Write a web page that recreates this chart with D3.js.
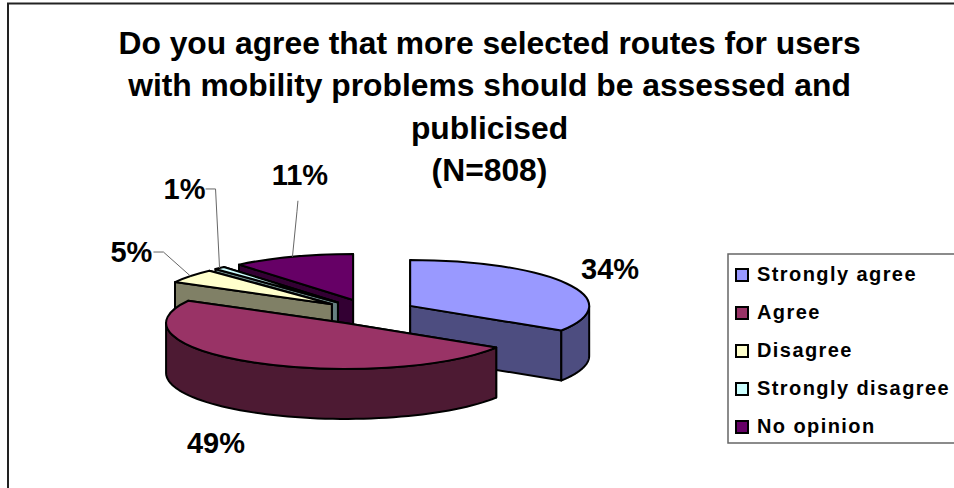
<!DOCTYPE html>
<html><head><meta charset="utf-8">
<script src="https://cdn.jsdelivr.net/npm/d3@7"></script>
<style>html,body{margin:0;padding:0;background:#fff}svg{display:block}
text{font-family:"Liberation Sans",Arial,sans-serif;font-weight:bold;fill:#000}</style>
</head><body><svg id="c" width="954" height="488"></svg>
<script>
const categories = ["Strongly agree","Agree","Disagree","Strongly disagree","No opinion"];
const values = [34,49,5,1,11];
const valueLabels = ["34%","49%","5%","1%","11%"];
const topColors = ["#9999FF","#993366","#FFFFCC","#CCFFFF","#660066"];
const wallColors = ["#4D4D80","#4D1A33","#808066","#668080","#330033"];
const titleLines = ["Do you agree that more selected routes for users","with mobility problems should be assessed and","publicised","(N=808)"];

const svg=d3.select("#c");
const rx=179, ry=46, depth=50, explodeX=47, explodeY=12.7;
const base={x:369,y:312};
const paintOrder=[4,3,2,0,1];

// frame
svg.append("path").attr("d","M8,488V3.5H954").attr("fill","none").attr("stroke","#222").attr("stroke-width",2);

// title
titleLines.forEach((t,i)=>svg.append("text").attr("x",489.5).attr("y",54+i*42.4)
  .attr("text-anchor","middle").attr("font-size",31.8).text(t));

const arcs=d3.pie().sort(null)(values);
const proj=(c,a,dy=0)=>[c.x+rx*Math.sin(a),c.y-ry*Math.cos(a)+dy];
const lineGen=d3.line();
const wallStyle=sel=>sel.attr("stroke","#000").attr("stroke-width",2).attr("stroke-linejoin","round");
const centers=arcs.map(d=>{const m=(d.startAngle+d.endAngle)/2;
  return {x:base.x+explodeX*Math.sin(m),y:base.y-explodeY*Math.cos(m),mid:m};});

const arcGen=d3.arc().innerRadius(0).outerRadius(rx);
paintOrder.forEach(i=>{
  const d=arcs[i],c=centers[i],g=svg.append("g");
  // radial walls, the far one first
  const radial=[d.startAngle,d.endAngle].sort((a,b)=>proj(c,a)[1]-proj(c,b)[1]);
  radial.forEach(a=>{
    g.append("path").attr("d",lineGen([[c.x,c.y],proj(c,a),proj(c,a,depth),[c.x,c.y+depth]])+"Z")
     .attr("fill",wallColors[i]).call(wallStyle);
  });
  // outer wall, front half only
  const a0=Math.max(d.startAngle,Math.PI/2),a1=Math.min(d.endAngle,Math.PI*1.5);
  if(a1>a0){
    const s=d3.range(0,61).map(k=>a0+(a1-a0)*k/60);
    const pts=s.map(a=>proj(c,a)).concat(s.slice().reverse().map(a=>proj(c,a,depth)));
    g.append("path").attr("d",lineGen(pts)+"Z").attr("fill",wallColors[i]).call(wallStyle);
  }
  // top face
  g.append("path").attr("d",arcGen(d))
   .attr("transform",`translate(${c.x},${c.y}) scale(1,${ry/rx})`)
   .attr("fill",topColors[i]).attr("stroke","#000").attr("stroke-width",2)
   .attr("vector-effect","non-scaling-stroke").attr("stroke-linejoin","round");
});

// value labels: offset of each label centre from its slice's rim point at mid-angle
const labelOffset=[[43,-15],[-38,80],[-59,-24],[-35,-79],[7.5,-82]];
const fontL=29;
arcs.forEach((d,i)=>{
  const c=centers[i],r=proj(c,c.mid);
  const lx=r[0]+labelOffset[i][0],ly=r[1]+labelOffset[i][1];
  let p=null;
  if(i===2) p=[[lx+22,ly],[lx+32,ly],r];
  if(i===3) p=[[lx+21,ly],[lx+31,ly],r];
  if(i===4) p=[[lx-2,ly+26],[lx-3,ly+37],r];
  if(p) svg.append("path").attr("d",lineGen(p)).attr("fill","none").attr("stroke","#666").attr("stroke-width",1);
  svg.append("text").attr("x",lx).attr("y",ly+10).attr("text-anchor","middle")
    .attr("font-size",fontL).text(valueLabels[i]);
});

// legend
const lg=svg.append("g");
const lx0=728,ly0=254,lh=189;
lg.append("path").attr("d",`M954,${ly0}H${lx0}V${ly0+lh}H954`).attr("fill","#fff").attr("stroke","#666").attr("stroke-width",1.5);
const ly=d3.scalePoint().domain(categories).range([274.5,426.5]);
categories.forEach((n,i)=>{
  lg.append("rect").attr("x",736).attr("y",ly(n)-5.5).attr("width",12).attr("height",12)
    .attr("fill",topColors[i]).attr("stroke","#000").attr("stroke-width",2);
  lg.append("text").attr("x",757).attr("y",ly(n)+6).attr("font-size",20).attr("letter-spacing",1.42).text(n);
});
</script></body></html>
